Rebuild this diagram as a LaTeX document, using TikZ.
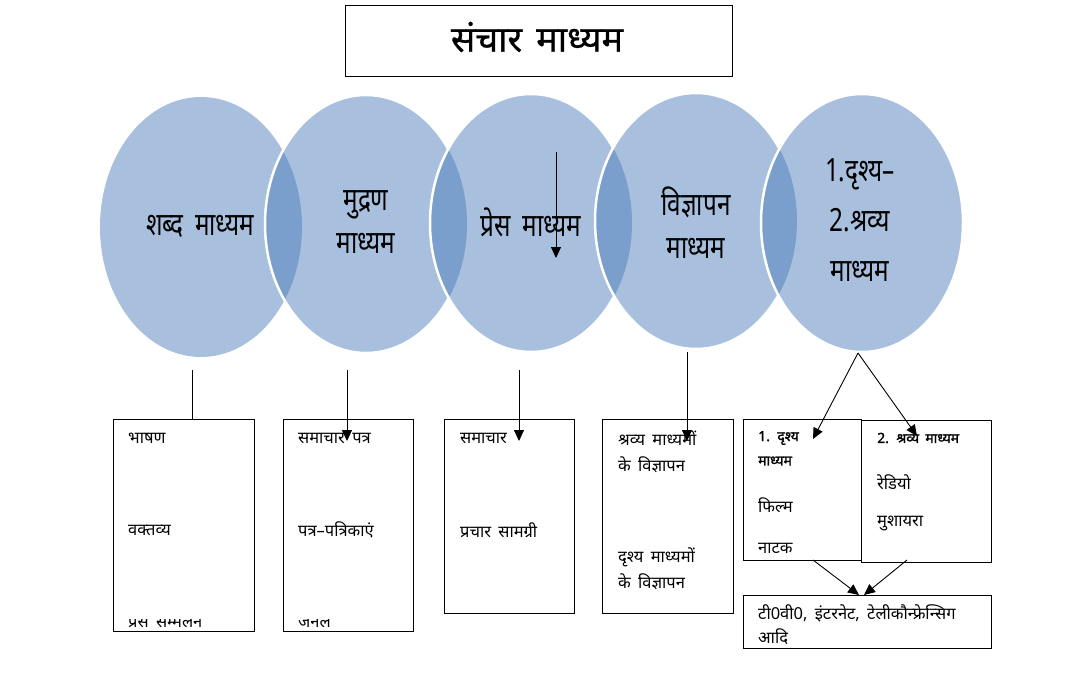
\documentclass[tikz,border=0pt]{standalone}
\usepackage{fontspec}
\newfontfamily\dev[Script=Devanagari,WordSpace=1.7]{Noto Sans}
\newfontfamily\devb[Script=Devanagari,WordSpace=1.7,FakeBold=1.6]{Noto Sans}
\newfontfamily\devc[Script=Devanagari,WordSpace=1.8,FakeStretch=0.76]{Noto Sans}
\newfontfamily\devt[Script=Devanagari,WordSpace=1.5,FakeBold=0.8]{Noto Sans}
\usetikzlibrary{arrows.meta,shapes.geometric}
\definecolor{elight}{RGB}{168,192,222}
\definecolor{edark}{RGB}{122,159,204}
\begin{document}
\begin{tikzpicture}[x=1pt,y=-1pt,
  box/.style={draw=black,line width=0.9pt,inner sep=0pt,anchor=north west},
  btext/.style={font=\dev\fontsize{16.5}{18}\selectfont,anchor=west,inner sep=0pt},
  bbold/.style={font=\devb\fontsize{14}{16}\selectfont,anchor=west,inner sep=0pt},
  etext/.style={font=\devc\fontsize{32}{43}\selectfont,align=center,inner sep=0pt},
  arr/.style={line width=0.9pt,-{Triangle[length=11pt,width=10pt]}},
  ln/.style={line width=0.9pt},
  outl/.style={white,line width=2.5pt}]
\useasboundingbox (0,0) rectangle (1080,677);
% title
\node[draw=black,line width=0.9pt,minimum width=387,minimum height=71,inner sep=0pt] (title) at (538.5,40.5) {};
\node[font=\devt\fontsize{36}{38}\selectfont,inner sep=0pt] (ttext) at (537,37) {संचार माध्यम};
% ellipses
\fill[elight] (201,227) ellipse [x radius=101,y radius=130];
\fill[elight] (366,224) ellipse [x radius=101,y radius=129];
\begin{scope}\clip (201,227) ellipse [x radius=101,y radius=130];
\fill[edark] (366,224) ellipse [x radius=101,y radius=129];\end{scope}
\draw[outl] (366,224) ellipse [x radius=101,y radius=129];
\fill[elight] (531,223) ellipse [x radius=101,y radius=129];
\begin{scope}\clip (366,224) ellipse [x radius=101,y radius=129];
\fill[edark] (531,223) ellipse [x radius=101,y radius=129];\end{scope}
\draw[outl] (531,223) ellipse [x radius=101,y radius=129];
\fill[elight] (696,221) ellipse [x radius=101,y radius=128];
\begin{scope}\clip (531,223) ellipse [x radius=101,y radius=129];
\fill[edark] (696,221) ellipse [x radius=101,y radius=128];\end{scope}
\draw[outl] (696,221) ellipse [x radius=101,y radius=128];
\fill[elight] (862,223) ellipse [x radius=101,y radius=129];
\begin{scope}\clip (696,221) ellipse [x radius=101,y radius=128];
\fill[edark] (862,223) ellipse [x radius=101,y radius=129];\end{scope}
\draw[outl] (862,223) ellipse [x radius=101,y radius=129];
% ellipse texts
\node[etext] (e1) at (200,226) {शब्द माध्यम};
\node[etext] (e2) at (366,222) {मुद्रण\\माध्यम};
\node[etext] (e3) at (531,222) {प्रेस माध्यम};
\node[etext] (e4) at (696,223) {विज्ञापन\\माध्यम};
\node[etext,font=\devc\fontsize{32}{50}\selectfont] (e5) at (860,220) {1.दृश्य–\\2.श्रव्य\\माध्यम};
% arrow inside third ellipse
\coordinate (p1) at (556,152);
\coordinate (p2) at (556,258);
\draw[arr] (p1) -- (p2);
% boxes
\node[box,minimum width=141,minimum height=212] (b1) at (113,419) {};
\node[box,minimum width=130,minimum height=212] (b2) at (283,419) {};
\node[box,minimum width=130,minimum height=194] (b3) at (444,419) {};
\node[box,minimum width=131,minimum height=194] (b4) at (602,419) {};
\node[box,minimum width=118,minimum height=141] (b5a) at (743,419) {};
\node[box,minimum width=130,minimum height=142] (b5b) at (861,420) {};
\node[box,minimum width=248,minimum height=53] (b6) at (743,595) {};
% box texts
\node[btext] (t11) at (128,438) {भाषण};
\node[btext] (t12) at (128,530) {वक्तव्य};
\node[btext] (t21) at (298,438) {समाचार पत्र};
\node[btext] (t22) at (298,530) {पत्र–पत्रिकाएं};
\begin{scope}
\clip (113,619.5) rectangle (413,631);
\node[btext] (t13) at (128,620) {प्रेस सम्मेलन};
\node[btext] (t23) at (298,620) {जर्नल};
\end{scope}
\node[btext] (t31) at (460,438) {समाचार};
\node[btext] (t32) at (460,530) {प्रचार सामग्री};
\node[btext] (t41) at (618,438) {श्रव्य माध्यमों};
\node[btext] (t42) at (618,465) {के विज्ञापन};
\node[btext] (t43) at (618,557) {दृश्य माध्यमों};
\node[btext] (t44) at (618,582) {के विज्ञापन};
\node[bbold] (t51) at (758,438) {1. दृश्य};
\node[bbold] (t52) at (758,461) {माध्यम};
\node[btext] (t53) at (758,505) {फिल्म};
\node[btext] (t54) at (758,548) {नाटक};
\node[bbold] (t61) at (877,438) {2. श्रव्य माध्यम};
\node[btext] (t62) at (877,482) {रेडियो};
\node[btext] (t63) at (877,523) {मुशायरा};
\node[btext] (t71) at (758,613) {टी0वी0, इंटरनेट, टेलीकौन्फ्रेन्सिग};
\node[btext] (t72) at (758,637) {आदि};
% connectors
\coordinate (s1) at (192,370);
\coordinate (s2) at (347,370);
\coordinate (s3) at (519,370);
\coordinate (s4) at (687,352);
\coordinate (s5) at (858,353);
\coordinate (h2) at (347,441);
\coordinate (h3) at (519,441);
\coordinate (h4) at (687,441);
\coordinate (h5a) at (813,439);
\coordinate (h5b) at (917,436);
\coordinate (u1) at (813,560);
\coordinate (u2) at (907,560);
\coordinate (v1) at (859,595);
\coordinate (v2) at (864,595);
\draw[ln] (s1) -- (s1 |- b1.north);
\draw[arr] (s2) -- (h2);
\draw[arr] (s3) -- (h3);
\draw[arr] (s4) -- (h4);
\draw[arr] (s5) -- (h5a);
\draw[arr] (s5) -- (h5b);
\draw[arr] (u1) -- (v1);
\draw[arr] (u2) -- (v2);
\end{tikzpicture}
\end{document}
